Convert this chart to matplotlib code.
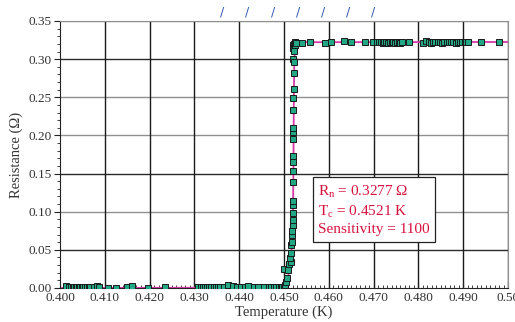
import numpy as np
import matplotlib
matplotlib.use("Agg")
import matplotlib.pyplot as plt
from matplotlib.ticker import MultipleLocator, FuncFormatter

plt.rcParams['font.family'] = ['Liberation Serif', 'DejaVu Serif']
plt.rcParams['mathtext.default'] = 'regular'

low_T = [0.4013, 0.4020, 0.4024, 0.4028, 0.4031, 0.4035, 0.4038, 0.4042, 0.4045,
         0.4049, 0.4052, 0.4056, 0.4060, 0.4064, 0.4068, 0.4075, 0.4083, 0.4087,
         0.4108, 0.4124, 0.4150, 0.4161, 0.4197, 0.4234, 0.4308, 0.4314, 0.4319,
         0.4323, 0.4328, 0.4333, 0.4338, 0.4343, 0.4348, 0.4353, 0.4358, 0.4366,
         0.4375, 0.4386, 0.4395, 0.4403, 0.4412, 0.4420, 0.4432, 0.4443, 0.4455,
         0.4466, 0.4472, 0.4477, 0.4483, 0.4488]
low_R = [0.0030, 0.0010, 0.0008, 0.0010, 0.0007, 0.0009, 0.0010, 0.0008, 0.0011,
         0.0009, 0.0008, 0.0010, 0.0009, 0.0011, 0.0010, 0.0012, 0.0020, 0.0015,
         0.0005, 0.0005, 0.0008, 0.0030, 0.0005, 0.0012, 0.0018, 0.0012, 0.0009,
         0.0010, 0.0011, 0.0008, 0.0012, 0.0015, 0.0010, 0.0016, 0.0012, 0.0018,
         0.0040, 0.0030, 0.0018, 0.0012, 0.0010, 0.0020, 0.0012, 0.0010, 0.0008,
         0.0010, 0.0012, 0.0014, 0.0012, 0.0015]

mid_T = [0.4493, 0.4496, 0.4499, 0.4502, 0.4504, 0.4506, 0.4501, 0.4510, 0.4512,
         0.4515, 0.4513, 0.4516, 0.4516, 0.4517, 0.4518, 0.4518, 0.4519, 0.4519,
         0.4521, 0.4521, 0.4520, 0.4521, 0.4521, 0.4521, 0.4521, 0.4521, 0.4521,
         0.4521, 0.4521, 0.4521, 0.4522, 0.4522, 0.4521, 0.4522]
mid_R = [0.0010, 0.0012, 0.0017, 0.0039, 0.0083, 0.0128, 0.0245, 0.0236, 0.0315,
         0.0345, 0.0390, 0.0455, 0.0564, 0.0607, 0.0695, 0.0750, 0.0826, 0.0891,
         0.0979, 0.1088, 0.1145, 0.1386, 0.1538, 0.1656, 0.1730, 0.1953, 0.2049,
         0.2094, 0.2330, 0.2495, 0.2609, 0.2823, 0.2998, 0.2967]

high_T = [0.4520, 0.4521, 0.4522, 0.4523, 0.4524, 0.4525, 0.4527, 0.4540, 0.4558,
          0.4592, 0.4604, 0.4634, 0.4649, 0.4681, 0.4699, 0.4708, 0.4712, 0.4716,
          0.4720, 0.4724, 0.4728, 0.4732, 0.4736, 0.4740, 0.4744, 0.4748, 0.4752,
          0.4756, 0.4760, 0.4763, 0.4779, 0.4811, 0.4818, 0.4823, 0.4828, 0.4833,
          0.4838, 0.4843, 0.4848, 0.4853, 0.4858, 0.4863, 0.4868, 0.4873, 0.4878,
          0.4883, 0.4888, 0.4893, 0.4898, 0.4903, 0.4907, 0.4911, 0.4939, 0.4981]
high_R = [0.3186, 0.3150, 0.3111, 0.3200, 0.3190, 0.3222, 0.3208, 0.3215, 0.3220,
          0.3210, 0.3230, 0.3235, 0.3220, 0.3228, 0.3228, 0.3225, 0.3220, 0.3230,
          0.3218, 0.3222, 0.3226, 0.3216, 0.3224, 0.3220, 0.3228, 0.3218, 0.3222,
          0.3225, 0.3214, 0.3226, 0.3222, 0.3212, 0.3232, 0.3226, 0.3218, 0.3224,
          0.3228, 0.3220, 0.3222, 0.3218, 0.3226, 0.3224, 0.3220, 0.3228, 0.3222,
          0.3218, 0.3225, 0.3221, 0.3227, 0.3219, 0.3224, 0.3222, 0.3220, 0.3220]

# fitted transition curve
fit_T = [0.4000, 0.4490, 0.4498, 0.4503, 0.4507, 0.4511, 0.4514, 0.4517, 0.4519,
         0.4520, 0.4521, 0.4522, 0.4523, 0.4525, 0.4530, 0.4540, 0.5000]
fit_R = [0.0000, 0.0005, 0.0020, 0.0050, 0.0100, 0.0200, 0.0320, 0.0500, 0.0750,
         0.0950, 0.1500, 0.2500, 0.3000, 0.3150, 0.3200, 0.3222, 0.3225]

Rn = 0.3277
Tc = 0.4521
sensitivity = 1100

T = low_T + mid_T + high_T
R = low_R + mid_R + high_R

fig = plt.figure(figsize=(5.15, 3.22), dpi=100)
ax = fig.add_axes([0.1165, 0.1056, 0.8699, 0.8292])

# grid: some lines print gray, some dark in the original
hgrid = [0.05, 0.10, 0.15, 0.20, 0.25, 0.30, 0.35]
hcol = ['#2a2a2a', '#909090', '#2a2a2a', '#909090', '#909090', '#2a2a2a', '#909090']
for yv, c in zip(hgrid, hcol):
    ax.axhline(yv, color=c, lw=1.0, zorder=1)
for xv in np.arange(0.41, 0.501, 0.01):
    ax.axvline(xv, color='#1a1a1a', lw=1.0, zorder=1)

ax.plot(fit_T, fit_R, color='#d63aa8', lw=1.3, zorder=2)
ax.plot(T, R, ls='none', marker='s', ms=4.3, mfc='#22a885', mec='#1a1a1a',
        mew=0.7, zorder=3)

ax.set_xlim(0.400, 0.500)
ax.set_ylim(0.0, 0.35)
ax.xaxis.set_major_locator(MultipleLocator(0.01))
ax.xaxis.set_minor_locator(MultipleLocator(0.001))
ax.yaxis.set_major_locator(MultipleLocator(0.05))
ax.yaxis.set_minor_locator(MultipleLocator(0.01))
ax.xaxis.set_major_formatter(
    FuncFormatter(lambda v, p: '0.50' if abs(v - 0.5) < 1e-6 else f'{v:.3f}'))
ax.yaxis.set_major_formatter(FuncFormatter(lambda v, p: f'{v:.2f}'))
ax.tick_params(axis='x', which='major', direction='in', length=4, labelsize=9.5,
               color='#222222', pad=3)
ax.tick_params(axis='x', which='minor', direction='in', length=2, color='#222222')
ax.tick_params(axis='y', which='major', direction='out', length=4, labelsize=9.5,
               color='#222222', pad=2)
ax.tick_params(axis='y', which='minor', direction='out', length=2.5, color='#222222')
for side in ['top', 'right']:
    ax.spines[side].set_color('#909090')
for side in ['left', 'bottom']:
    ax.spines[side].set_color('#222222')
ax.tick_params(labelcolor='#333333')

ax.set_xlabel('Temperature (K)', fontsize=10.5, color='#333333', labelpad=1)
ax.set_ylabel('Resistance (Ω)', fontsize=10.5, color='#333333', labelpad=4)

label = (f'R$_n$ = {Rn:.4f} Ω\nT$_c$ = {Tc:.4f} K\nSensitivity = {sensitivity}')
ax.text(0.4576, 0.137, label, fontsize=11, color='#d8123f', va='top', ha='left',
        linespacing=1.35, zorder=5,
        bbox=dict(boxstyle='square,pad=0.35', fc='white', ec='#222222', lw=0.9))

# small blue slash marks printed above the frame
for xp in [222, 247, 273, 298, 323, 348, 373]:
    fig.text(xp / 515, 1 - 12 / 322, '/', color='#3a5db4', fontsize=9,
             ha='center', va='center', family='DejaVu Sans')

fig.savefig('out.png', dpi=100)
